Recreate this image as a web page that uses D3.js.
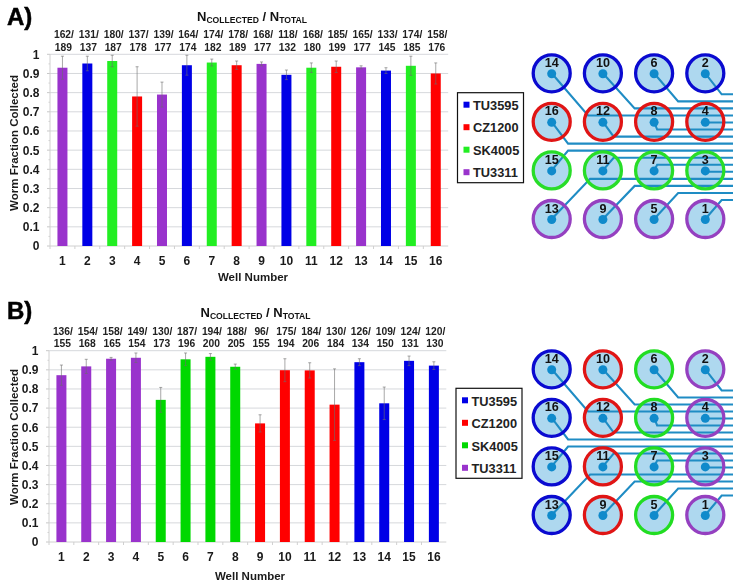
<!DOCTYPE html>
<html><head><meta charset="utf-8">
<style>html,body{margin:0;padding:0;background:#fff}svg{display:block;font-family:"Liberation Sans",Arial,sans-serif;filter:blur(0.35px)}</style>
<script src="https://cdn.jsdelivr.net/npm/d3@7"></script></head><body>
<svg id="c" width="741" height="587"></svg>
<script>
const wells = d3.range(1, 17);
const yTicks = [0,0.1,0.2,0.3,0.4,0.5,0.6,0.7,0.8,0.9,1];
const minorTicks = [0.05,0.15,0.25,0.35,0.45,0.55,0.65,0.75,0.85,0.95];
const strainNames = ["TU3595","CZ1200","SK4005","TU3311"];

const aValues = [0.93,0.952,0.965,0.78,0.79,0.943,0.957,0.943,0.95,0.893,0.93,0.935,0.932,0.915,0.94,0.90];
const aErrTop = [0.99,0.99,0.995,0.935,0.855,0.995,0.975,0.965,0.96,0.918,0.955,0.965,0.94,0.93,0.99,0.955];
const aStrain = ["TU3311","TU3595","SK4005","CZ1200","TU3311","TU3595","SK4005","CZ1200","TU3311","TU3595","SK4005","CZ1200","TU3311","TU3595","SK4005","CZ1200"];
const aCollected = [162,131,180,137,139,164,174,178,168,118,168,185,165,133,174,158];
const aTotal = [189,137,187,178,177,174,182,189,177,132,180,199,177,145,185,176];

const bValues = [0.872,0.918,0.958,0.963,0.743,0.955,0.968,0.916,0.62,0.898,0.897,0.718,0.94,0.725,0.947,0.922];
const bErrTop = [0.925,0.955,0.965,0.988,0.808,0.988,0.985,0.93,0.665,0.958,0.937,0.905,0.958,0.81,0.972,0.942];
const bStrain = ["TU3311","TU3311","TU3311","TU3311","SK4005","SK4005","SK4005","SK4005","CZ1200","CZ1200","CZ1200","CZ1200","TU3595","TU3595","TU3595","TU3595"];
const bCollected = [136,154,158,149,130,187,194,188,96,175,184,130,126,109,124,120];
const bTotal = [155,168,165,154,173,196,200,205,155,194,206,184,134,150,131,130];

// device layout: column, row, output track (0 = top) and how far the trace runs diagonally, in column widths
const wellCol = [3,3,3,3,2,2,2,2,1,1,1,1,0,0,0,0];
const wellRow = [3,0,2,1,3,0,2,1,3,0,2,1,3,0,2,1];
const wellTrack = [15,0,11,4,14,1,10,5,13,2,9,6,12,3,8,7];
const wellRun = [0.32,0.32,0,0,0.47,0.47,0.06,0.06,0.62,0.62,0.21,0.21,0.75,0.71,0.32,0.32];

function panel(o){
  const svg = d3.select("#c");
  const g = svg.append("g");
  const x = d3.scaleBand().domain(wells).range(o.xr).padding(0);
  const y = d3.scaleLinear().domain([0,1]).range(o.yr);
  const colour = d3.scaleOrdinal().domain(strainNames).range(o.barCols);
  const ringCol = d3.scaleOrdinal().domain(strainNames).range(o.ringCols);

  g.selectAll(".grid").data(yTicks.slice(1)).join("line")
    .attr("x1",o.xr[0]).attr("x2",o.xr[1]).attr("y1",y).attr("y2",y)
    .attr("stroke","#d6d8dc").attr("stroke-width",1);
  g.selectAll(".minor").data(minorTicks).join("line")
    .attr("x1",o.xr[0]-1.5).attr("x2",o.xr[0]).attr("y1",y).attr("y2",y).attr("stroke","#d0d0d0");
  g.selectAll(".maj").data(yTicks).join("line")
    .attr("x1",o.xr[0]-3).attr("x2",o.xr[0]).attr("y1",y).attr("y2",y).attr("stroke","#c8c8c8");
  g.append("line").attr("x1",o.xr[0]).attr("x2",o.xr[0]).attr("y1",o.yr[0]).attr("y2",o.yr[1]).attr("stroke","#d0d0d0");
  g.append("line").attr("x1",o.xr[0]).attr("x2",o.xr[1]).attr("y1",o.yr[0]).attr("y2",o.yr[0]).attr("stroke","#d0d0d0");
  g.selectAll(".xt").data(wells).join("line")
    .attr("x1",d=>x(d)).attr("x2",d=>x(d)).attr("y1",o.yr[0]).attr("y2",o.yr[0]+3).attr("stroke","#d0d0d0");

  const cx = d => x(d)+x.bandwidth()/2;
  g.selectAll(".bar").data(wells).join("rect")
    .attr("x",d=>cx(d)-5).attr("width",10)
    .attr("y",d=>y(o.values[d-1])).attr("height",d=>y(0)-y(o.values[d-1]))
    .attr("fill",d=>colour(o.strain[d-1]));
  const ew = g.selectAll(".err").data(wells).join("g").attr("stroke","#6b6b6b").attr("stroke-opacity",0.75).attr("stroke-width",0.8);
  ew.append("line").attr("x1",cx).attr("x2",cx)
    .attr("y1",d=>y(o.errTop[d-1])).attr("y2",d=>y(2*o.values[d-1]-o.errTop[d-1]));
  ew.append("line").attr("x1",d=>cx(d)-1.5).attr("x2",d=>cx(d)+1.5).attr("y1",d=>y(o.errTop[d-1])).attr("y2",d=>y(o.errTop[d-1]));
  ew.append("line").attr("x1",d=>cx(d)-1.5).attr("x2",d=>cx(d)+1.5)
    .attr("y1",d=>y(2*o.values[d-1]-o.errTop[d-1])).attr("y2",d=>y(2*o.values[d-1]-o.errTop[d-1]));

  const txt = (s,xx,yy,size,anchor="middle",w="bold",fill="#1a1a1a") => g.append("text").text(s)
    .attr("x",xx).attr("y",yy).attr("font-size",size).attr("font-weight",w).attr("text-anchor",anchor).attr("fill",fill);

  g.selectAll(".yl").data(yTicks).join("text").text(d=>d)
    .attr("x",o.xr[0]-10.5).attr("y",d=>y(d)+4.4).attr("text-anchor","end")
    .attr("font-size",12).attr("font-weight","bold").attr("fill","#1a1a1a");
  g.selectAll(".xl").data(wells).join("text").text(d=>d)
    .attr("x",cx).attr("y",o.yr[0]+18.5).attr("text-anchor","middle")
    .attr("font-size",12).attr("font-weight","bold").attr("fill","#1a1a1a");
  txt("Well Number",o.xMid,o.yr[0]+o.xTitleDy,11.5);
  txt("Worm Fraction Collected",0,0,11.5).attr("transform",`translate(17.5,${o.yMid}) rotate(-90)`);
  txt(o.letter,7,o.letterY,24,"start").attr("fill","#000").attr("stroke","#000").attr("stroke-width",0.5);

  g.selectAll(".c1").data(wells).join("text").text(d=>o.collected[d-1]+"/")
    .attr("x",d=>cx(d)+1.5).attr("y",o.yr[1]-16).attr("text-anchor","middle")
    .attr("font-size",10.3).attr("font-weight","bold").attr("fill","#222");
  g.selectAll(".c2").data(wells).join("text").text(d=>o.total[d-1])
    .attr("x",d=>cx(d)+1).attr("y",o.yr[1]-3.5).attr("text-anchor","middle")
    .attr("font-size",10.3).attr("font-weight","bold").attr("fill","#222");

  const title = txt("",o.titleX,o.titleY,13,"middle","bold","#111");
  ["N","COLLECTED"," / N","TOTAL"].forEach((s,k)=>{
    title.append("tspan").text(s).attr("font-size",k%2?8.6:13).attr("dy",k%2?2:(k?-2:0)).style("white-space","pre");
  });

  // legend
  const lg = g.append("g").attr("transform",`translate(${o.legend[0]},${o.legend[1]})`);
  lg.append("rect").attr("width",66).attr("height",90).attr("fill","#fff").attr("stroke","#111").attr("stroke-width",1.2);
  const ly = d3.scalePoint().domain(strainNames).range([12.5,80]);
  lg.selectAll("rect.k").data(strainNames).join("rect").attr("class","k")
    .attr("x",6).attr("y",d=>ly(d)-3.5).attr("width",6).attr("height",6).attr("fill",d=>colour(d));
  lg.selectAll("text").data(strainNames).join("text").text(d=>d)
    .attr("x",15.5).attr("y",d=>ly(d)+4.8).attr("font-size",12.8).attr("font-weight","bold").attr("fill","#222");

  // device
  const dx = d3.scaleLinear().domain([0,3]).range([551.7,705.3]);
  const dy = d3.scaleLinear().domain([0,3]).range(o.devY);
  const ty = d3.scaleLinear().domain([0,15]).range(o.trackY);
  const endX = dx(3)+27.7;
  const dev = g.append("g");
  dev.selectAll("circle.w").data(wells).join("circle").attr("class","w")
    .attr("cx",d=>dx(wellCol[d-1])).attr("cy",d=>dy(wellRow[d-1])).attr("r",18.5)
    .attr("fill","#aed8ef");
  dev.selectAll("path.t").data(wells).join("path").attr("class","t")
    .attr("d",d=>{
      const i=d-1, x0=dx(wellCol[i]), y0=dy(wellRow[i]), yT=ty(wellTrack[i]);
      const ex=x0+wellRun[i]*(dx(1)-dx(0));
      return d3.line()([[x0,y0],[ex,yT],[endX,yT]]);
    }).attr("fill","none").attr("stroke","#1f8cc4").attr("stroke-width",2.1);
  dev.selectAll("circle.r").data(wells).join("circle").attr("class","r")
    .attr("cx",d=>dx(wellCol[d-1])).attr("cy",d=>dy(wellRow[d-1])).attr("r",18.5)
    .attr("fill","none").attr("stroke",d=>ringCol(o.strain[d-1])).attr("stroke-width",3.3);
  dev.selectAll("circle.h").data(wells).join("circle").attr("class","h")
    .attr("cx",d=>dx(wellCol[d-1])).attr("cy",d=>dy(wellRow[d-1])+0.5).attr("r",4.5).attr("fill","#0f8acb");
  dev.selectAll("text").data(wells).join("text").text(d=>d)
    .attr("x",d=>dx(wellCol[d-1])).attr("y",d=>dy(wellRow[d-1])-6.5)
    .attr("text-anchor","middle").attr("font-size",12.6).attr("font-weight","bold").attr("fill","#111");
}

panel({letter:"A)",letterY:25,xr:[50,448.2],yr:[246,54.3],xMid:253,yMid:143,xTitleDy:35,titleX:252,titleY:21,
  values:aValues,errTop:aErrTop,strain:aStrain,collected:aCollected,total:aTotal,
  barCols:["#0000e6","#ff0000","#22ee22","#9933cc"],ringCols:["#0a0ad0","#e01515","#28dd28","#9540c0"],
  legend:[457.5,92.7],devY:[73.3,219],trackY:[94.3,200]});
panel({letter:"B)",letterY:319,xr:[49,446.3],yr:[542,350.7],xMid:250,yMid:437,xTitleDy:38,titleX:255.5,titleY:316.5,
  values:bValues,errTop:bErrTop,strain:bStrain,collected:bCollected,total:bTotal,
  barCols:["#0000e6","#ff0000","#00d800","#9933cc"],ringCols:["#0a0ad0","#e01515","#22dd22","#9540c0"],
  legend:[456,388.3],devY:[369.3,515],trackY:[390.5,495.5]});
</script></body></html>
